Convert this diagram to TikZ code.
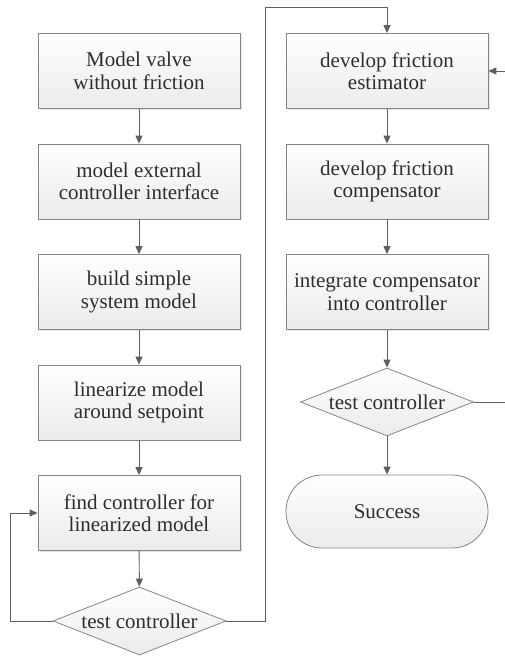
\documentclass[tikz,border=0pt]{standalone}
\usepackage{fontspec}
\setmainfont{Liberation Serif}
\usetikzlibrary{shapes.geometric,arrows.meta,shadows}

\definecolor{edge}{HTML}{858585}
\definecolor{wire}{HTML}{5F5F5F}
\definecolor{ink}{HTML}{2E2E2E}
\definecolor{shadebot}{HTML}{EBEBEB}

\tikzset{
  every node/.style={font=\fontsize{21}{22.5}\selectfont, text=ink, align=center},
  box/.style={rectangle, draw=edge, line width=0.8pt,
    top color=white, bottom color=shadebot,
    minimum width=202pt, minimum height=75pt, inner sep=0pt,
    drop shadow={shadow xshift=1.5pt, shadow yshift=-1.5pt, fill=black!10, opacity=1}},
  decide/.style={diamond, draw=edge, line width=0.8pt,
    top color=white, bottom color=shadebot,
    minimum width=173pt, minimum height=68pt, inner sep=0pt, aspect=2.54},
  term/.style={rectangle, rounded corners=36pt, draw=edge, line width=0.8pt,
    top color=white, bottom color=shadebot,
    minimum width=202pt, minimum height=73pt, inner sep=0pt},
  flow/.style={draw=wire, line width=0.95pt, -{Triangle[length=8pt,width=7pt]}},
}

\begin{document}
\begin{tikzpicture}[x=1pt,y=1pt]
  \useasboundingbox (0,0) rectangle (505,656);
  \clip (0,0) rectangle (505,656);

  % left column
  \node[box] (mv)  at (139,585) {Model valve\\without friction};
  \node[box] (ext) at (139,474.5) {model external\\controller interface};
  \node[box] (sys) at (139,364) {build simple\\system model};
  \node[box] (lin) at (139,253.5) {linearize model\\around setpoint};
  \node[box] (ctl) at (139,143) {find controller for\\linearized model};
  \node[decide] (t1) at (139.5,35) {test controller};

  % right column
  \node[box] (est) at (387,585) {develop friction\\estimator};
  \node[box] (cmp) at (387,474.5) {develop friction\\compensator};
  \node[box] (int) at (387,364) {integrate compensator\\into controller};
  \node[decide] (t2) at (387,254) {test controller};
  \node[term] (ok) at (387,144.5) {Success};

  \coordinate (fbL) at (10,35);
  \coordinate (upR) at (265,35);
  \coordinate (topR) at (265,649);
  \coordinate (outR) at (512,254);

  % sequential steps
  \draw[flow] (mv) -- (ext);
  \draw[flow] (ext) -- (sys);
  \draw[flow] (sys) -- (lin);
  \draw[flow] (lin) -- (ctl);
  \draw[flow] (ctl) -- (t1);
  \draw[flow] (est) -- (cmp);
  \draw[flow] (cmp) -- (int);
  \draw[flow] (int) -- (t2);
  \draw[flow] (t2) -- (ok);

  % loops
  \draw[flow] (t1.west) -- (fbL) |- (ctl.west);
  \draw[flow] (t1.east) -- (upR) -- (topR) -| (est.north);
  \draw[flow] (t2.east) -- (outR) |- (est.east);
\end{tikzpicture}
\end{document}
